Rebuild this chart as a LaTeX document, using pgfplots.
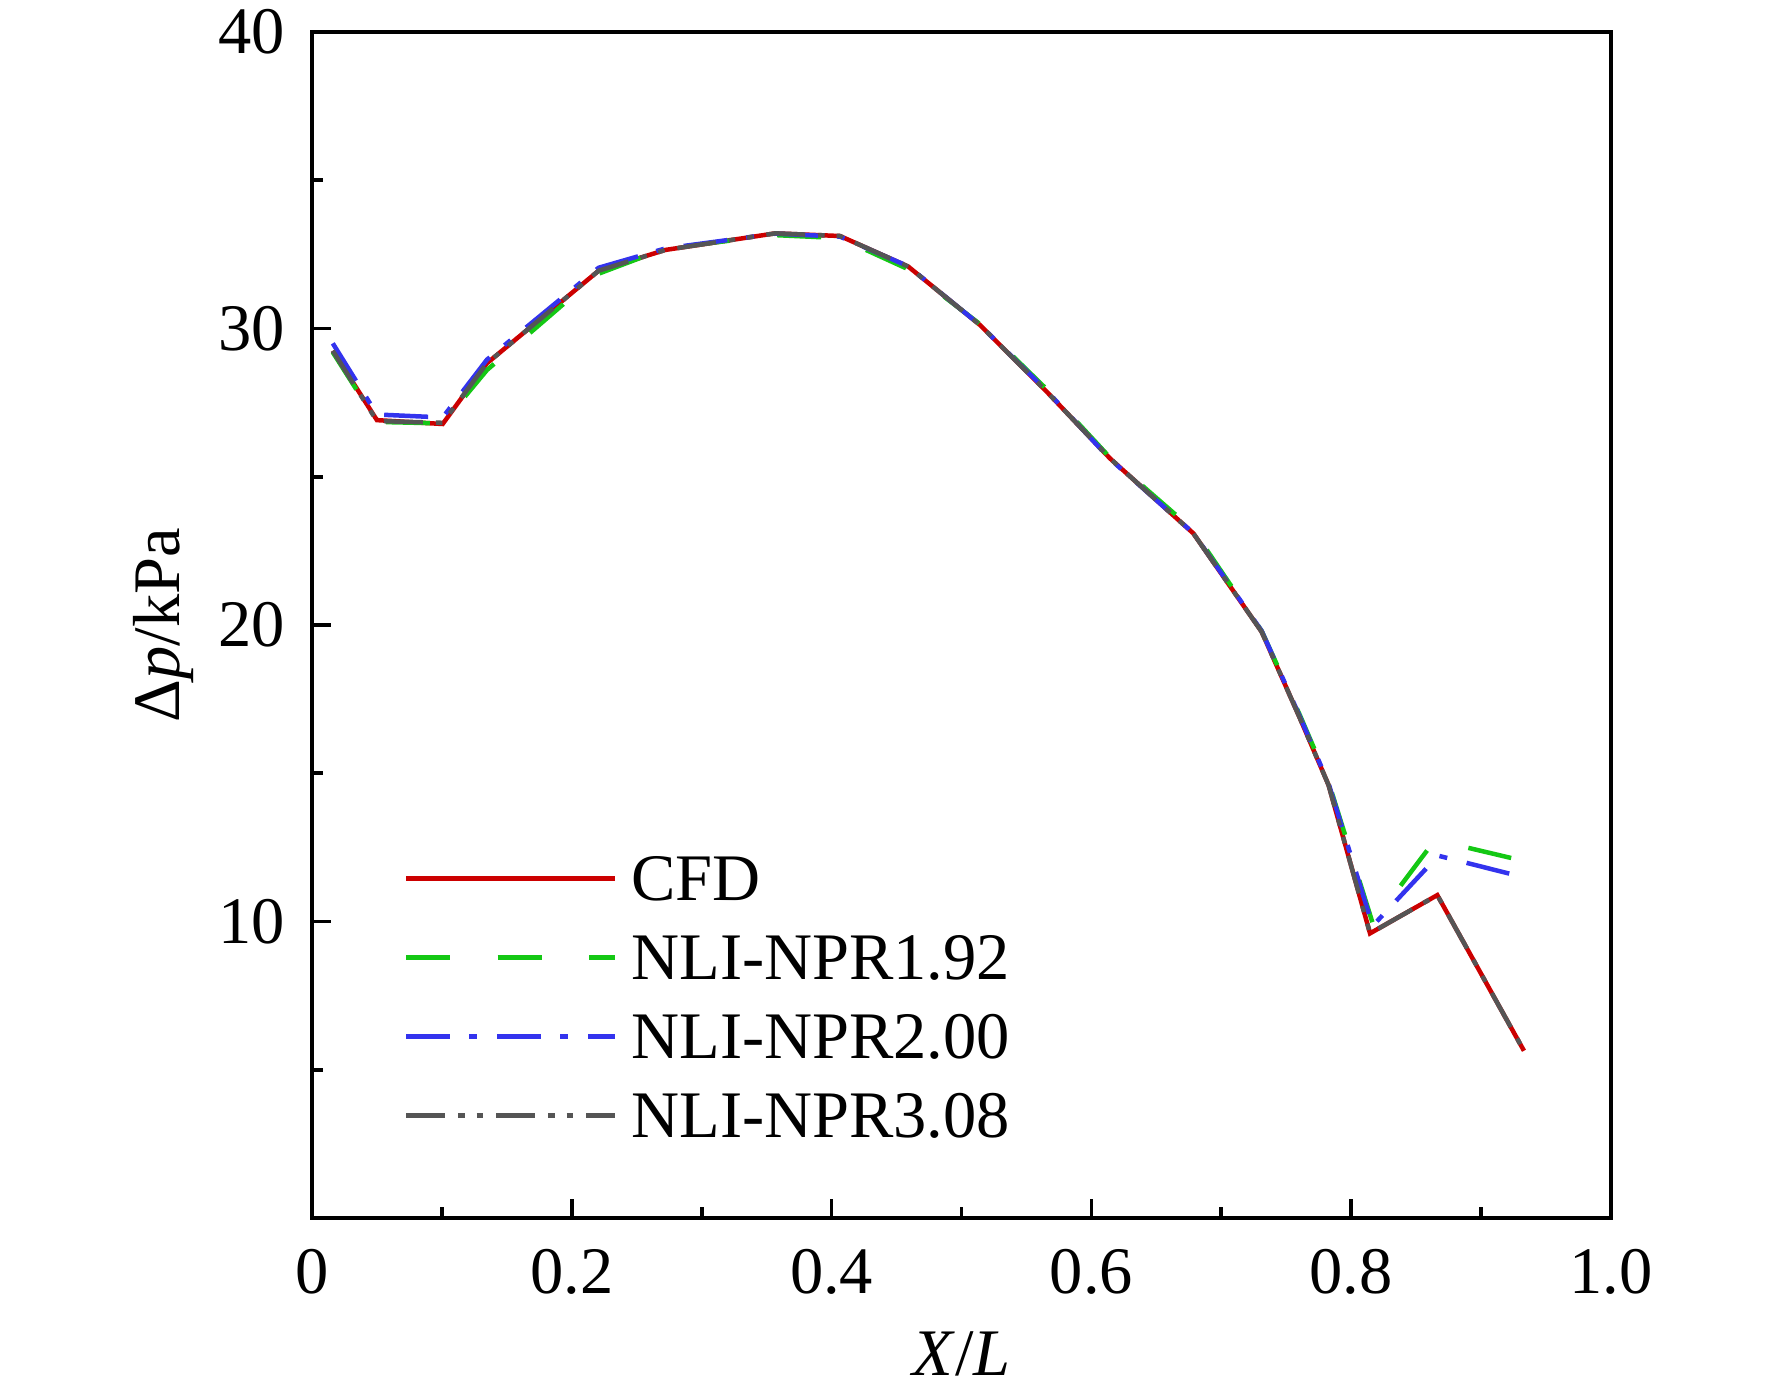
\documentclass[border=0pt]{standalone}
\usepackage{fontspec}
\setmainfont{Liberation Serif}
\usepackage{pgfplots}
\pgfplotsset{compat=1.18}
\definecolor{cfdred}{RGB}{204,0,0}
\definecolor{nprgreen}{RGB}{20,200,20}
\definecolor{nprblue}{RGB}{51,51,238}
\definecolor{nprgray}{RGB}{85,85,85}

\pgfplotstableread{
x y
0.016 29.25
0.050 26.91
0.1006 26.78
0.1347 28.83
0.2207 31.95
0.272 32.65
0.3567 33.21
0.4065 33.12
0.459 32.09
0.5142 30.12
0.5656 27.87
0.6143 25.62
0.6785 23.09
0.7311 19.77
0.7606 16.85
0.7826 14.6
0.8145 9.6
0.8663 10.89
0.933 5.64
}\cfd

\pgfplotstableread{
x y
0.016 29.2
0.050 26.85
0.1006 26.8
0.1347 28.6
0.2207 31.85
0.272 32.7
0.3567 33.15
0.4065 33.05
0.459 32.0
0.5142 30.15
0.5656 27.95
0.6143 25.65
0.6785 23.2
0.7311 19.8
0.7606 16.95
0.7826 14.7
0.8165 9.95
0.8645 12.75
0.933 12.04
}\nprA

\pgfplotstableread{
x y
0.016 29.5
0.050 27.1
0.1006 27.0
0.1347 28.95
0.2207 32.05
0.272 32.7
0.3567 33.2
0.4065 33.1
0.459 32.1
0.5142 30.12
0.5656 27.9
0.6143 25.6
0.6785 23.1
0.7311 19.8
0.7606 16.9
0.7826 14.65
0.8165 9.85
0.867 12.22
0.933 11.49
}\nprB

\pgfplotstableread{
x y
0.016 29.25
0.050 26.88
0.1006 26.82
0.1347 28.83
0.2207 31.95
0.272 32.65
0.3567 33.21
0.4065 33.12
0.459 32.09
0.5142 30.12
0.5656 27.87
0.6143 25.62
0.6785 23.09
0.7311 19.77
0.7606 16.85
0.7826 14.6
0.8145 9.6
0.8663 10.89
0.933 5.64
}\nprC

\begin{document}
\fontsize{13.3}{16}\selectfont
\begin{tikzpicture}
\begin{axis}[
  name=ax, at={(0,0)}, anchor=south west,
  scale only axis, width=259.8pt, height=237.2pt,
  xmin=0, xmax=1, ymin=0, ymax=40,
  xtick={0,0.2,0.4,0.6,0.8,1},
  xticklabels={0,0.2,0.4,0.6,0.8,1.0},
  minor xtick={0.1,0.3,0.5,0.7,0.9},
  ytick={10,20,30,40},
  minor ytick={5,15,25,35},
  tick align=inside, xtick pos=bottom, ytick pos=left,
  major tick length=3.8pt, minor tick length=2.2pt,
  axis line style={line width=0.8pt},
  every tick/.style={black, line width=0.75pt},
  /pgf/number format/assume math mode=true,
  xticklabel style={anchor=base, inner sep=0pt, yshift=-15pt},
  yticklabel style={anchor=east, inner sep=0pt, xshift=-5.2pt},
  xlabel={\textit{X}/\textit{L}},
  ylabel={Δ\textit{p}/kPa},
  xlabel style={at={(axis description cs:0.5,0)}, anchor=base, inner sep=0pt, yshift=-31.4pt},
  ylabel style={at={(axis description cs:0,0.5)}, anchor=base, inner sep=0pt, yshift=26.4pt},
  legend cell align=left,
  legend style={at={(axis cs:0.07,12.3)}, anchor=north west, draw=none, fill=none,
    inner sep=0pt, row sep=6.6pt, column sep=2.8pt,
    nodes={inner sep=0pt, text height=9.2pt, text depth=0pt, anchor=base west}},
  legend image code/.code={\draw[#1] (0pt,4.4pt) -- (41.8pt,4.4pt);},
]
\addplot[cfdred, line width=0.9pt] table[x=x,y=y] {\cfd};
\addlegendentry{CFD}
\addplot[nprgreen, line width=0.9pt, dash pattern=on 8.8pt off 9.5pt] table[x=x,y=y] {\nprA};
\addlegendentry{NLI-NPR1.92}
\addplot[nprblue, line width=0.9pt, dash pattern=on 8.8pt off 3.8pt on 1.6pt off 4pt] table[x=x,y=y] {\nprB};
\addlegendentry{NLI-NPR2.00}
\addplot[nprgray, line width=0.9pt, dash pattern=on 7.8pt off 2.6pt on 1.3pt off 2.4pt on 1.3pt off 2.6pt] table[x=x,y=y] {\nprC};
\addlegendentry{NLI-NPR3.08}
\end{axis}
\pgfresetboundingbox
\path[use as bounding box] (-62.4pt,-35.6pt) rectangle (292pt,243.6pt);
\end{tikzpicture}
\end{document}
